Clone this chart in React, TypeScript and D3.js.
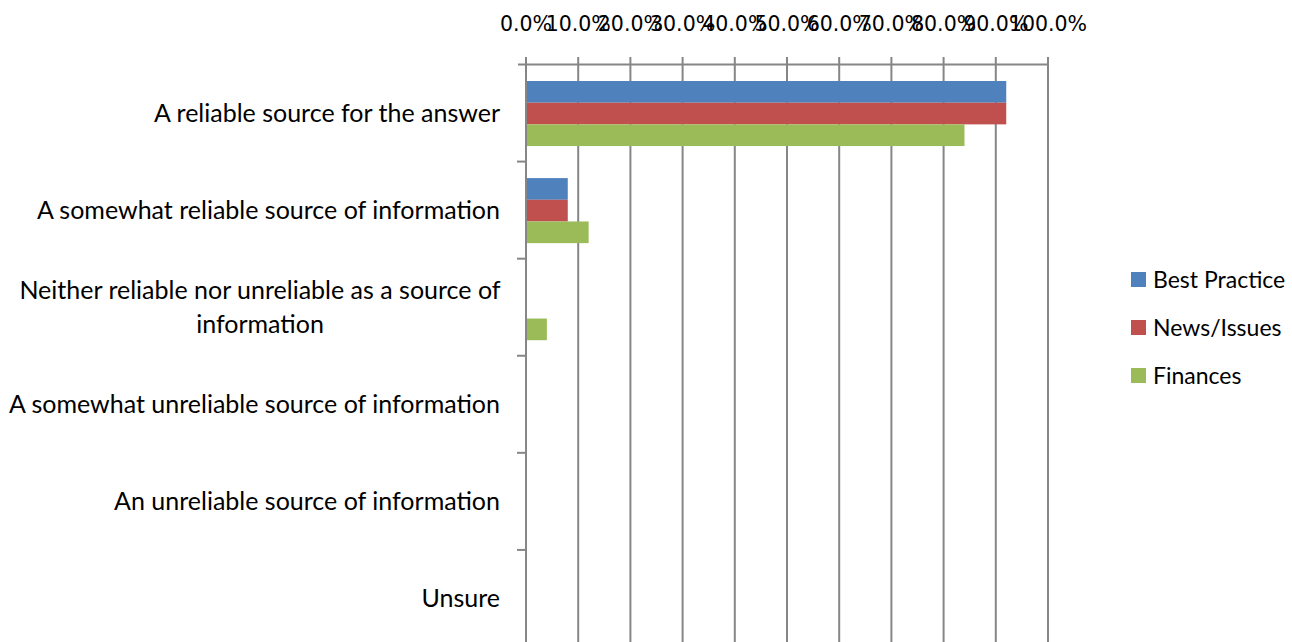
import React from "react";
import * as d3 from "d3";

const categories = [
  "A reliable source for the answer",
  "A somewhat reliable source of information",
  "Neither reliable nor unreliable as a source of information",
  "A somewhat unreliable source of information",
  "An unreliable source of information",
  "Unsure",
];
const labelLines = [
  ["A reliable source for the answer"],
  ["A somewhat reliable source of information"],
  ["Neither reliable nor unreliable as a source of", "information"],
  ["A somewhat unreliable source of information"],
  ["An unreliable source of information"],
  ["Unsure"],
];
const seriesNames = ["Best Practice", "News/Issues", "Finances"];
const seriesColors = ["#4F81BD", "#C0504D", "#9BBB59"];
const bestPractice = [0.92, 0.08, 0, 0, 0, 0];
const newsIssues = [0.92, 0.08, 0, 0, 0, 0];
const finances = [0.84, 0.12, 0.04, 0, 0, 0];
const xTicks = [0, 0.1, 0.2, 0.3, 0.4, 0.5, 0.6, 0.7, 0.8, 0.9, 1.0];

const seriesValues = [bestPractice, newsIssues, finances];

export default function App() {
  const W = 1292, H = 642;
  const x = d3.scaleLinear().domain([0, 1]).range([526, 1048]);
  const y = d3.scaleBand<string>().domain(categories).range([64.5, 647]).paddingInner(0).paddingOuter(0);
  const step = y.step();
  const fmt = d3.format(".1%");
  const grid = "#868686";
  const labelFont = "Lato, 'Open Sans', sans-serif";
  const fs = 25;
  const legendFs = 23;

  return (
    <svg width={W} height={H} style={{ position: "absolute", left: 0, top: 0, background: "#fff" }}>
      {/* gridlines */}
      {xTicks.map((t, i) => (
        <line key={"g" + i} x1={x(t)} x2={x(t)} y1={57} y2={H} stroke={grid} strokeWidth={2} />
      ))}
      {/* top axis line */}
      <line x1={518} x2={x(1) + 1} y1={64.5} y2={64.5} stroke={grid} strokeWidth={2} />
      {/* left axis ticks */}
      {categories.map((c, i) => (
        <line key={"lt" + i} x1={517} x2={526} y1={(y(c) as number) + step} y2={(y(c) as number) + step} stroke={grid} strokeWidth={2} />
      ))}
      {/* x tick labels */}
      {xTicks.map((t, i) => (
        <text key={"xl" + i} x={x(t)} y={31} textAnchor="middle" fontFamily="'DejaVu Sans', sans-serif" fontSize={20.5} fill="#000">
          {fmt(t)}
        </text>
      ))}
      {/* bars */}
      {categories.map((c, ci) => {
        const g0 = (y(c) as number) + step * 0.17;
        const inner = d3.scaleBand<number>().domain([0, 1, 2]).range([g0, g0 + step * 0.67]);
        return seriesValues.map((vals, si) =>
          vals[ci] > 0 ? (
            <rect key={`b${ci}-${si}`} x={x(0) + 1} y={inner(si)} width={x(vals[ci]) - x(0) - 1} height={inner.bandwidth()} fill={seriesColors[si]} />
          ) : null
        );
      })}
      {/* left axis line */}
      <line x1={526} x2={526} y1={64} y2={H} stroke={grid} strokeWidth={2} />
      {/* category labels */}
      {categories.map((c, ci) => {
        const cy = (y(c) as number) + step / 2;
        const lines = labelLines[ci];
        if (lines.length === 1) {
          return (
            <text key={"cl" + ci} x={500} y={cy + 8.5} textAnchor="end" fontFamily={labelFont} fontSize={fs} fill="#000">
              {lines[0]}
            </text>
          );
        }
        return (
          <text key={"cl" + ci} x={260} y={cy - 17 + 8.5} textAnchor="middle" fontFamily={labelFont} fontSize={fs} fill="#000">
            {lines.map((l, li) => (
              <tspan key={li} x={260} dy={li === 0 ? 0 : 34}>{l}</tspan>
            ))}
          </text>
        );
      })}
      {/* legend */}
      {seriesNames.map((n, i) => (
        <g key={"lg" + i} transform={`translate(1131, ${272 + i * 48})`}>
          <rect x={0} y={0} width={15} height={15} fill={seriesColors[i]} />
          <text x={22} y={15.5} fontFamily={labelFont} fontSize={legendFs} fill="#000">{n}</text>
        </g>
      ))}
    </svg>
  );
}
